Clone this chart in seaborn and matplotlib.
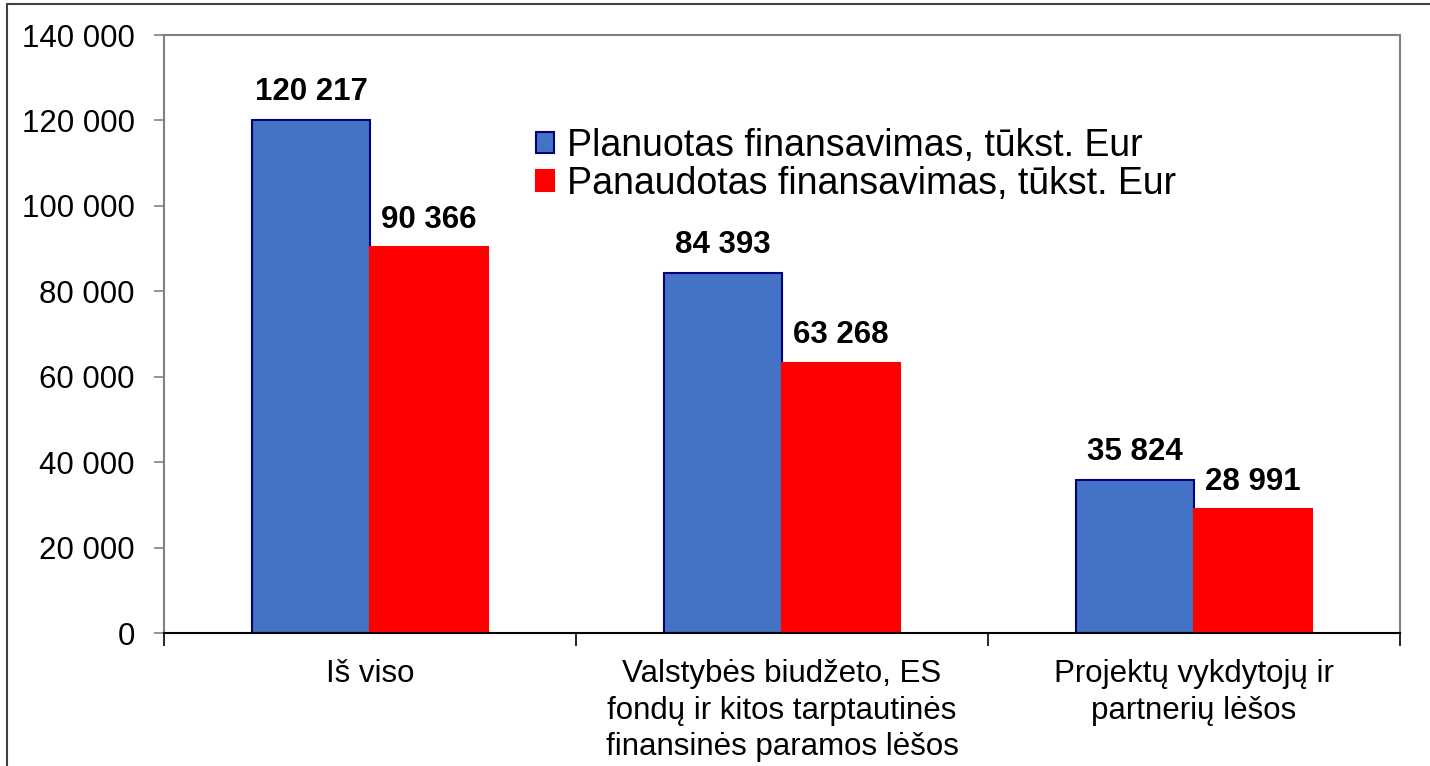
import numpy as np
import pandas as pd
import seaborn as sns
import matplotlib.pyplot as plt
from matplotlib.ticker import FuncFormatter, FixedLocator
from matplotlib.lines import Line2D

# data
categories = ["Iš viso",
              "Valstybės biudžeto, ES\nfondų ir kitos tarptautinės\nfinansinės paramos lėšos",
              "Projektų vykdytojų ir\npartnerių lėšos"]
series = ["Planuotas finansavimas, tūkst. Eur", "Panaudotas finansavimas, tūkst. Eur"]
planned = [120217, 84393, 35824]
used = [90366, 63268, 28991]
yticks = [0, 20000, 40000, 60000, 80000, 100000, 120000, 140000]

df = pd.DataFrame({
    "category": categories * 2,
    "series": [series[0]] * 3 + [series[1]] * 3,
    "value": planned + used,
})

sns.set_style("white")
plt.rcParams['font.family'] = ['Liberation Sans', 'DejaVu Sans']
plt.rcParams['text.color'] = 'black'
plt.rcParams['xtick.labelcolor'] = 'black'
plt.rcParams['ytick.labelcolor'] = 'black'

fig = plt.figure(figsize=(14.3, 7.66), dpi=100)
ax = fig.add_axes([0.1147, 0.1736, 0.979 - 0.1147, 0.9543 - 0.1736])

palette = {series[0]: "#4472C4", series[1]: "#FF0000"}
sns.barplot(data=df, x="category", y="value", hue="series", palette=palette,
            width=0.573, saturation=1, ax=ax, errorbar=None, legend=True)

edges = ["#000080", "#FF0000"]
for cont, ec in zip(ax.containers, edges):
    for p in cont:
        p.set_edgecolor(ec)
        p.set_linewidth(1.5)
    ax.bar_label(cont, labels=[f"{int(v):,}".replace(",", " ") for v in cont.datavalues],
                 padding=9, fontsize=22.5, fontweight="bold", color="black")

ax.set_ylim(0, 140000)
ax.set_xlim(-0.5, 2.5)
ax.yaxis.set_major_locator(FixedLocator(yticks))
ax.yaxis.set_major_formatter(FuncFormatter(lambda v, p: f"{int(v):,}".replace(",", " ")))
ax.tick_params(axis="y", labelsize=22.5, length=7, width=1.2, color="#808080",
               direction="out", left=True, pad=14)
ax.tick_params(axis="x", which="major", length=0, labelsize=22.5, pad=19)
ax.set_xticks([-0.5, 0.5, 1.5, 2.5], minor=True)
ax.tick_params(axis="x", which="minor", length=9, width=1.2, color="black",
               direction="out", bottom=True)
for lbl in ax.get_xticklabels():
    lbl.set_linespacing(1.27)
    lbl.set_verticalalignment("top")
ax.set_xlabel("")
ax.set_ylabel("")

for s in ["left", "top", "right"]:
    ax.spines[s].set_color("#808080")
    ax.spines[s].set_linewidth(1.5)
ax.spines["bottom"].set_color("black")
ax.spines["bottom"].set_linewidth(1.5)

leg = ax.legend(loc="upper left", bbox_to_anchor=(0.2885, 0.87), frameon=False,
                fontsize=27, handlelength=0.5, handleheight=0.5,
                handletextpad=0.35, labelspacing=0.05, borderaxespad=0)
for h, ec in zip(leg.legend_handles, edges):
    h.set_edgecolor(ec)
    h.set_linewidth(1.5)

# outer frame lines (top and left)
fig.add_artist(Line2D([7 / 1430, 1], [1 - 4 / 766, 1 - 4 / 766], color="#404040", lw=1.5))
fig.add_artist(Line2D([7 / 1430, 7 / 1430], [0, 1 - 4 / 766], color="#404040", lw=1.5))

fig.savefig("out.png", dpi=100)
